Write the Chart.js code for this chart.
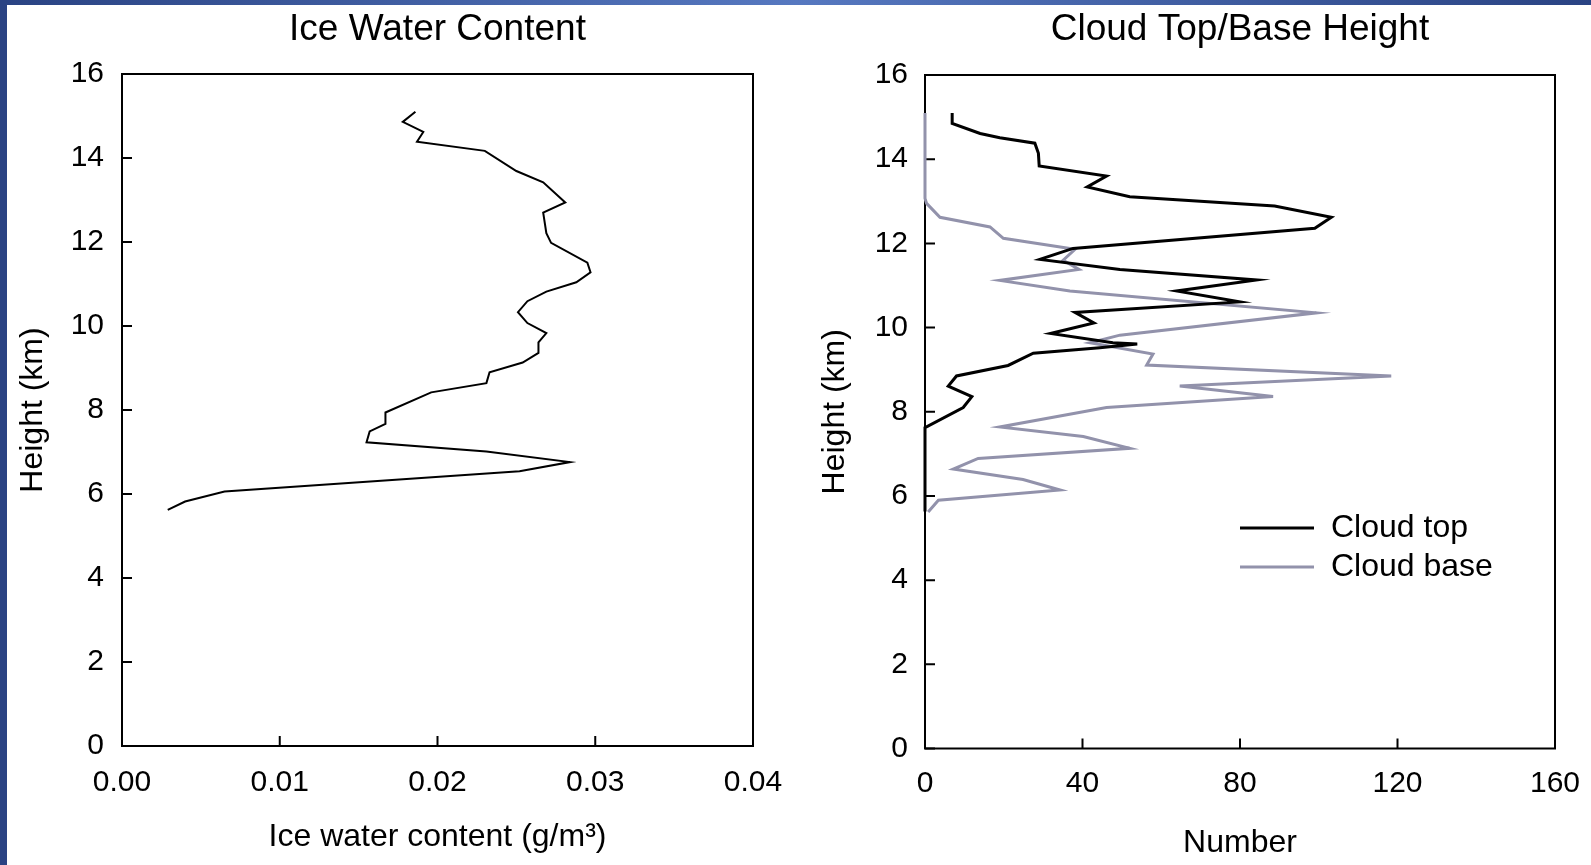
<!DOCTYPE html>
<html>
<head>
<meta charset="utf-8">
<script src="https://cdn.jsdelivr.net/npm/chart.js@4.4.1/dist/chart.umd.min.js"></script>
<style>
    body { margin: 0; width: 1591px; height: 865px; background: #fff; position: relative; overflow: hidden; font-family: "Liberation Sans", Arial, sans-serif; }
    .top-bar { position: absolute; left: 0; top: 0; width: 1591px; height: 5px; background: linear-gradient(to right, #2a4383, #5678c0 50%, #2a4383); }
    .left-bar { position: absolute; left: 0; top: 0; width: 7px; height: 865px; background: #2a4383; }
    #iwcChart { position: absolute; left: 7px; top: 5px; }
    #cloudChart { position: absolute; left: 795px; top: 5px; }
</style>
</head>
<body>
<div class="top-bar"></div>
<div class="left-bar"></div>
<canvas id="iwcChart" width="780" height="860"></canvas>
<canvas id="cloudChart" width="796" height="860"></canvas>

<script>
// Ice water content profile (g/m3) vs height (km)
const iwcHeight = [15.10, 14.86, 14.62, 14.39, 14.17, 13.69, 13.42, 12.94, 12.70, 12.21, 11.98, 11.51, 11.28, 11.04, 10.82, 10.59, 10.33, 10.07, 9.83, 9.61, 9.36, 9.13, 8.90, 8.64, 8.42, 7.94, 7.67, 7.49, 7.23, 7.01, 6.76, 6.54, 6.06, 5.82, 5.62];
const iwcValue = [0.0186, 0.0178, 0.0191, 0.0187, 0.0230, 0.0250, 0.0267, 0.0281, 0.0267, 0.0269, 0.0272, 0.0295, 0.0297, 0.0288, 0.0269, 0.0257, 0.0251, 0.0257, 0.0269, 0.0264, 0.0264, 0.0254, 0.0233, 0.0231, 0.0196, 0.0167, 0.0167, 0.0157, 0.0155, 0.0231, 0.0284, 0.0252, 0.0065, 0.0040, 0.0029];

// Cloud top counts vs height (km)
const topHeight = [15.10, 14.85, 14.61, 14.51, 14.38, 14.14, 13.84, 13.60, 13.34, 13.11, 12.89, 12.62, 12.36, 11.88, 11.62, 11.38, 11.13, 10.87, 10.61, 10.36, 10.11, 9.86, 9.64, 9.61, 9.52, 9.39, 9.10, 8.85, 8.61, 8.36, 8.10, 7.62, 5.63];
const topCount = [6.9, 6.9, 14.0, 19.0, 27.9, 28.8, 29.0, 46.1, 41.2, 52.0, 88.8, 103.2, 99.0, 37.6, 29.2, 49.5, 84.2, 63.9, 79.9, 38.1, 42.9, 31.9, 47.7, 53.9, 44.4, 27.5, 21.1, 8.0, 5.9, 11.9, 9.7, 0, 0];

// Cloud base counts vs height (km)
const baseHeight = [15.10, 13.07, 12.95, 12.62, 12.39, 12.12, 11.86, 11.60, 11.38, 11.12, 10.87, 10.35, 9.82, 9.64, 9.37, 9.11, 8.85, 8.61, 8.36, 8.10, 7.64, 7.41, 7.13, 6.89, 6.64, 6.39, 6.14, 5.90, 5.62];
const baseCount = [0, 0, 0.4, 3.8, 16.5, 19.9, 38.1, 35.1, 39.1, 19.0, 36.8, 99.4, 49.5, 41.9, 57.9, 56.3, 118.4, 64.7, 88.4, 46.1, 19.0, 40.2, 52.0, 13.5, 7.2, 24.9, 34.3, 3.4, 0.8];

const seriesLabels = ['Cloud top', 'Cloud base'];

const FONT = '"Liberation Sans", Arial, sans-serif';

function toPoints(xs, ys) {
    return xs.map((x, i) => ({ x: x, y: ys[i] }));
}

// Draws the plot frame and inward tick marks (under the lines)
const frameTicks = {
    id: 'frameTicks',
    beforeDatasetsDraw(chart) {
        const { ctx, chartArea: a, scales } = chart;
        ctx.save();
        ctx.strokeStyle = '#000';
        ctx.lineWidth = 2;
        ctx.strokeRect(a.left, a.top, a.right - a.left, a.bottom - a.top);
        ctx.beginPath();
        scales.x.ticks.forEach(t => {
            const px = scales.x.getPixelForValue(t.value);
            ctx.moveTo(px, a.bottom);
            ctx.lineTo(px, a.bottom - 10);
        });
        scales.y.ticks.forEach(t => {
            const py = scales.y.getPixelForValue(t.value);
            ctx.moveTo(a.left, py);
            ctx.lineTo(a.left + 10, py);
        });
        ctx.stroke();
        ctx.restore();
    }
};

// Legend drawn inside the plot area
const innerLegend = {
    id: 'innerLegend',
    afterDraw(chart, args, opts) {
        if (!opts.show) return;
        const { ctx, chartArea: a } = chart;
        ctx.save();
        ctx.font = '32px ' + FONT;
        ctx.textBaseline = 'middle';
        chart.data.datasets.forEach((ds, i) => {
            const y = a.top + opts.top + i * opts.gap;
            const x = a.left + opts.left;
            ctx.strokeStyle = ds.borderColor;
            ctx.lineWidth = ds.borderWidth;
            ctx.beginPath();
            ctx.moveTo(x, y);
            ctx.lineTo(x + 74, y);
            ctx.stroke();
            ctx.fillStyle = '#000';
            ctx.fillText(ds.label, x + 91, y);
        });
        ctx.restore();
    }
};

function makeOptions(cfg) {
    return {
        responsive: false,
        animation: false,
        layout: { padding: { left: 0, right: cfg.padRight, top: 0, bottom: 0 } },
        plugins: {
            legend: { display: false },
            tooltip: { enabled: false },
            title: {
                display: true,
                text: cfg.title,
                fullSize: false,
                color: '#000',
                font: { family: FONT, size: 37, weight: 'normal', lineHeight: 1.2 },
                padding: { top: 3, bottom: cfg.chartTop - 44.4 - 3 }
            },
            innerLegend: cfg.legend || { show: false }
        },
        scales: {
            x: {
                type: 'linear',
                min: 0,
                max: cfg.xMax,
                afterFit(scale) {
                    scale.height = cfg.xHeight;
                    scale.paddingLeft = 0;
                    scale.paddingRight = 0;
                },
                grid: { display: false },
                border: { display: false },
                ticks: {
                    stepSize: cfg.xStep,
                    color: '#000',
                    padding: cfg.xTickPad,
                    maxRotation: 0,
                    font: { family: FONT, size: 30, lineHeight: 1.2 },
                    callback: cfg.xFormat
                },
                title: {
                    display: true,
                    text: cfg.xTitle,
                    color: '#000',
                    font: { family: FONT, size: 32, lineHeight: 1.2 },
                    padding: { top: 0, bottom: cfg.xTitlePad }
                }
            },
            y: {
                type: 'linear',
                min: 0,
                max: 16,
                afterFit(scale) {
                    scale.width = cfg.yWidth;
                    scale.paddingTop = 0;
                    scale.paddingBottom = 0;
                },
                grid: { display: false },
                border: { display: false },
                ticks: {
                    stepSize: 2,
                    color: '#000',
                    padding: cfg.yTickPad,
                    font: { family: FONT, size: 30, lineHeight: 1.2 }
                },
                title: {
                    display: true,
                    text: 'Height (km)',
                    color: '#000',
                    font: { family: FONT, size: 32, lineHeight: 1.2 },
                    padding: { top: cfg.yTitlePad, bottom: 0 }
                }
            }
        }
    };
}

// Left: ice water content
new Chart(document.getElementById('iwcChart'), {
    type: 'scatter',
    data: {
        datasets: [{
            label: 'Ice water content',
            data: toPoints(iwcValue, iwcHeight),
            showLine: true,
            borderColor: '#000',
            borderWidth: 2,
            pointRadius: 0,
            clip: false
        }]
    },
    options: makeOptions({
        title: 'Ice Water Content',
        padRight: 34,
        chartTop: 69,
        xMax: 0.04,
        xStep: 0.01,
        xHeight: 119,
        xTickPad: 11,
        xTitle: 'Ice water content (g/m³)',
        xTitlePad: 9,
        xFormat: v => v.toFixed(2),
        yWidth: 115,
        yTickPad: 10,
        yTitlePad: 7
    }),
    plugins: [frameTicks, innerLegend]
});

// Right: cloud top / base height
new Chart(document.getElementById('cloudChart'), {
    type: 'scatter',
    data: {
        datasets: [{
            label: seriesLabels[0],
            data: toPoints(topCount, topHeight),
            showLine: true,
            borderColor: '#000',
            borderWidth: 3,
            pointRadius: 0,
            clip: false
        }, {
            label: seriesLabels[1],
            data: toPoints(baseCount, baseHeight),
            showLine: true,
            borderColor: '#9292ab',
            borderWidth: 3,
            pointRadius: 0,
            clip: false
        }]
    },
    options: makeOptions({
        title: 'Cloud Top/Base Height',
        padRight: 36,
        chartTop: 70,
        xMax: 160,
        xStep: 40,
        xHeight: 116.5,
        xTickPad: 9,
        xTitle: 'Number',
        xTitlePad: 3,
        xFormat: v => String(v),
        yWidth: 130,
        yTickPad: 9,
        yTitlePad: 21,
        legend: { show: true, left: 315, top: 453, gap: 39 }
    }),
    plugins: [frameTicks, innerLegend]
});
</script>
</body>
</html>
